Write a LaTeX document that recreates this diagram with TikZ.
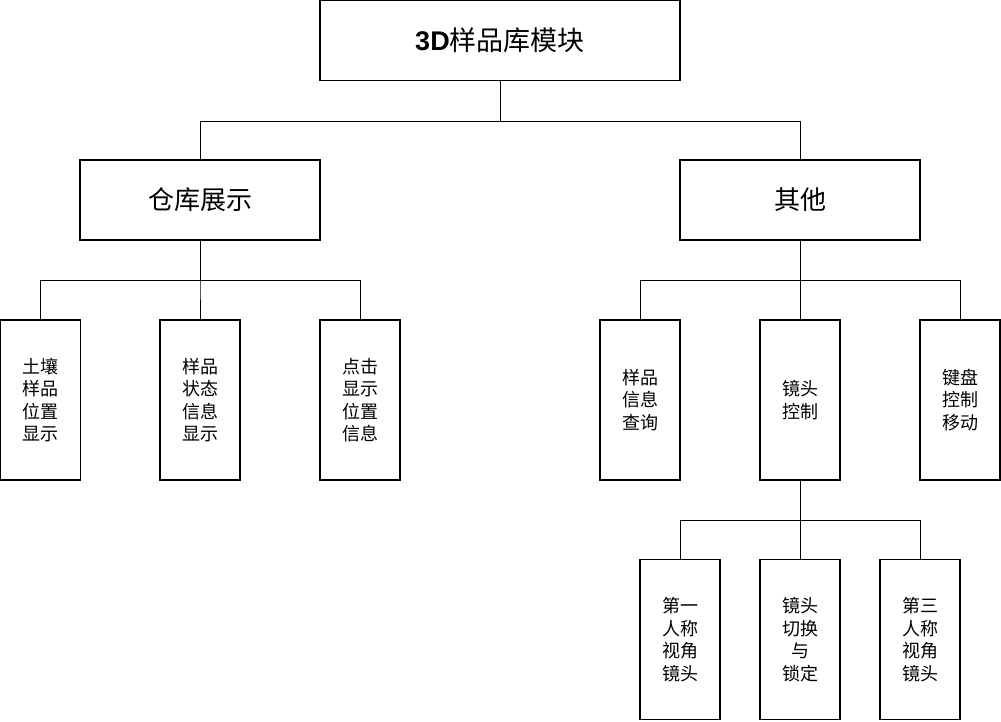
\documentclass[tikz,border=0pt]{standalone}
\usepackage{fontspec}
\newfontfamily\cjk{Noto Sans CJK SC}
\newfontfamily\latinbold{Liberation Sans}
\begin{document}
\begin{tikzpicture}[x=1pt,y=-1pt,
  box/.style={draw=black,line width=1.1pt,fill=white,inner sep=0pt,align=center},
  wide/.style={box,minimum width=240pt,minimum height=80pt,font=\cjk\fontsize{26}{30}\selectfont},
  tall/.style={box,minimum width=80pt,minimum height=160pt,font=\cjk\fontsize{18}{22.5}\selectfont},
  link/.style={draw=black,line width=1pt}]
\useasboundingbox (0,0) rectangle (1001,721);

% root
\node[box,minimum width=360pt,minimum height=80pt] (root) at (500,40.5)
  {{\latinbold\bfseries\fontsize{27}{30}\selectfont 3D}{\cjk\fontsize{27}{30}\selectfont 样品库模块}};

% second level
\node[wide] (store) at (200,200) {仓库展示};
\node[wide] (other) at (800,200) {其他};

% warehouse display leaves
\node[tall] (soil)  at (40.5,400) {土壤\\样品\\位置\\显示};
\node[tall] (state) at (200,400) {样品\\状态\\信息\\显示};
\node[tall] (click) at (360,400) {点击\\显示\\位置\\信息};

% other leaves
\node[tall] (query) at (640,400) {样品\\信息\\查询};
\node[tall] (cam)   at (800,400) {镜头\\控制};
\node[tall] (keys)  at (960,400) {键盘\\控制\\移动};

% camera control leaves
\node[tall] (first) at (680,639.5) {第一\\人称\\视角\\镜头};
\node[tall] (swap)  at (800,639.5) {镜头\\切换\\与\\锁定};
\node[tall] (third) at (920,639.5) {第三\\人称\\视角\\镜头};

% connectors
\draw[link] (root.south) -- ++(0,40) -| (store.north);
\draw[link] (root.south) -- ++(0,40) -| (other.north);
\foreach \c in {soil,state,click}
  \draw[link] (store.south) -- ++(0,40) -| (\c.north);
\foreach \c in {query,cam,keys}
  \draw[link] (other.south) -- ++(0,40) -| (\c.north);
\foreach \c in {first,swap,third}
  \draw[link] (cam.south) -- ++(0,40) -| (\c.north);
\end{tikzpicture}
\end{document}
